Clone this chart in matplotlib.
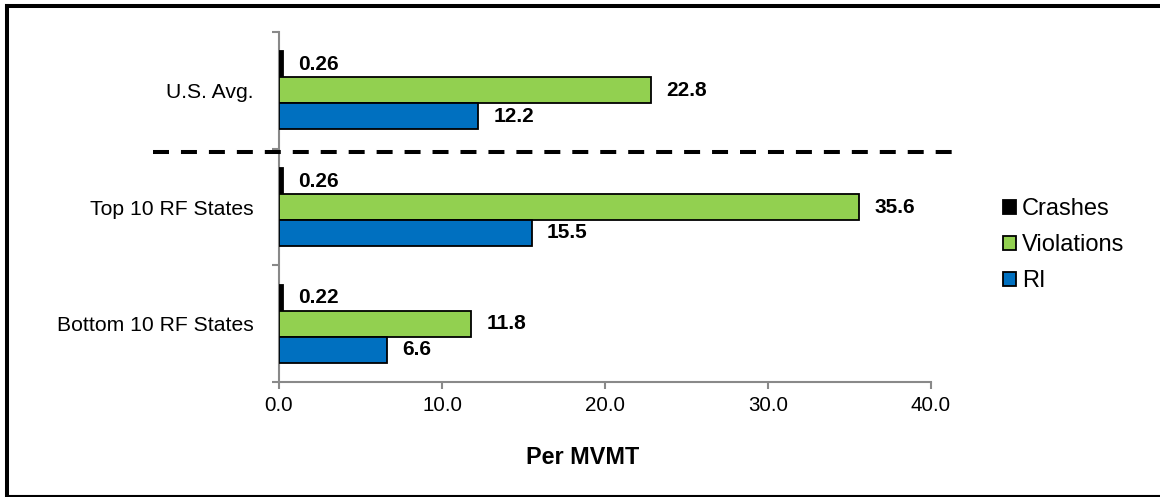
import matplotlib
matplotlib.use("Agg")
import matplotlib.pyplot as plt
import matplotlib.transforms as mtransforms
from matplotlib.lines import Line2D
from matplotlib.patches import Patch
import numpy as np

plt.rcParams["font.family"] = ["Liberation Sans", "DejaVu Sans"]

# Data
groups = ["U.S. Avg.", "Top 10 RF States", "Bottom 10 RF States"]
crashes = [0.26, 0.26, 0.22]
violations = [22.8, 35.6, 11.8]
ri = [12.2, 15.5, 6.6]
crash_labels = ["0.26", "0.26", "0.22"]
series_names = ["Crashes", "Violations", "RI"]
x_ticks = [0, 10, 20, 30, 40]
x_label = "Per MVMT"

colors = ["#000000", "#92D050", "#0070C0"]
axis_gray = "#898989"

W, H, DPI = 1160, 497, 100
fig = plt.figure(figsize=(W / DPI, H / DPI), dpi=DPI)

# axes in pixel terms
x0, x1 = 279, 931
y_top, y_bot = 32, 382
ax = fig.add_axes([x0 / W, 1 - y_bot / H, (x1 - x0) / W, (y_bot - y_top) / H])

pos = np.arange(len(groups))
h = 0.222
series = [crashes, violations, ri]
offsets = [-h, 0, h]
for vals, off, col, name in zip(series, offsets, colors, series_names):
    ax.barh(pos + off, vals, height=h, color=col, edgecolor="black",
            linewidth=1.3, label=name, zorder=3)

# value labels
for i in range(len(groups)):
    for vals, off, txt in ((crashes, -h, crash_labels[i]),
                           (violations, 0, f"{violations[i]:.1f}"),
                           (ri, h, f"{ri[i]:.1f}")):
        ax.annotate(txt, xy=(vals[i], pos[i] + off), xytext=(11, 0),
                    textcoords="offset points", va="center", ha="left",
                    fontsize=15, fontweight="bold", color="black")

ax.set_xlim(0, 40)
ax.set_ylim(2.5, -0.5)

# spines and ticks
for s in ("top", "right"):
    ax.spines[s].set_visible(False)
for s in ("left", "bottom"):
    ax.spines[s].set_color(axis_gray)
    ax.spines[s].set_linewidth(1.5)

ax.set_xticks(x_ticks)
ax.set_xticklabels([f"{v:.1f}" for v in x_ticks], fontsize=14.8)
ax.tick_params(axis="x", direction="out", length=5, width=1.5,
               color=axis_gray, pad=5)

ax.set_yticks([-0.5, 0.5, 1.5, 2.5])
ax.set_yticklabels([])
ax.tick_params(axis="y", which="major", direction="out", length=5,
               width=1.5, color=axis_gray)
ax.set_yticks(pos, minor=True)
ax.set_yticklabels(groups, minor=True, fontsize=15.2)
ax.tick_params(axis="y", which="minor", length=0, pad=18.5)

# dashed separator below the national average
trans = mtransforms.blended_transform_factory(ax.transAxes, ax.transData)
sep = Line2D([(153 - x0) / (x1 - x0), (955 - x0) / (x1 - x0)], [0.526, 0.526],
             transform=trans, color="black", linewidth=2.9,
             dashes=(3.97, 2.97), solid_capstyle="butt",
             dash_capstyle="butt", clip_on=False, zorder=5)
ax.add_line(sep)

# axis title
fig.text(583 / W, 1 - 457 / H, x_label, ha="center", va="center",
         fontsize=16.8, fontweight="bold")

# legend
handles = [Patch(facecolor=c, edgecolor="black", linewidth=1.3) for c in colors]
fig.legend(handles, series_names, loc="upper left",
           bbox_to_anchor=(1003 / W, 1 - 198 / H), frameon=False,
           fontsize=17, handlelength=0.55, handleheight=0.55,
           handletextpad=0.25, labelspacing=0.6, borderpad=0,
           borderaxespad=0)

# outer frame
def px_line(xs, ys, lw):
    fig.add_artist(Line2D([x / W for x in xs], [1 - y / H for y in ys],
                          transform=fig.transFigure, color="black",
                          linewidth=lw, solid_capstyle="projecting"))

px_line([7, 7], [6, 496], 2.9)
px_line([7, 1165], [6, 6], 2.9)
px_line([7, 1165], [496, 496], 1.5)

fig.savefig("out.png", dpi=DPI, facecolor="white")
